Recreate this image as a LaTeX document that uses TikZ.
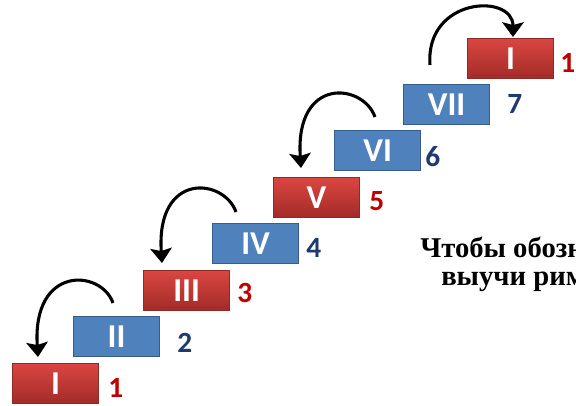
\documentclass[tikz,border=0pt]{standalone}
\usepackage{fontspec}
\setmainfont{Liberation Serif}
\newfontfamily\boxfont{Carlito}
\usetikzlibrary{arrows.meta}
\definecolor{rtop}{HTML}{DA4642}
\definecolor{rbot}{HTML}{A22B27}
\definecolor{rline}{HTML}{8C2B28}
\definecolor{bfill}{HTML}{4F81BD}
\definecolor{bline}{HTML}{385D8A}
\definecolor{numred}{HTML}{C00000}
\definecolor{numblue}{HTML}{1F3A6E}
\begin{document}
\begin{tikzpicture}[x=0.75pt,y=-0.75pt,
  box/.style={rectangle, minimum width=64.5pt, minimum height=30pt, inner sep=0pt,
    anchor=north west, text=white, line width=0.9pt,
    font=\boxfont\bfseries\fontsize{25}{25}\selectfont},
  redbox/.style={box, draw=rline, top color=rtop, bottom color=rbot},
  bluebox/.style={box, draw=bline, fill=bfill},
  num/.style={anchor=base west, inner sep=0pt, font=\boxfont\bfseries\fontsize{22}{22}\selectfont},
  rnum/.style={num, text=numred},
  bnum/.style={num, text=numblue},
  arr/.style={line width=2.3pt, -{Stealth[width=16pt,length=11pt,inset=2pt]}},
  caption/.style={anchor=base west, inner sep=0pt, font=\bfseries\fontsize{21.5}{21.5}\selectfont}]
\useasboundingbox[fill=white] (0,0) rectangle (576,405);

% boxes
\node[redbox]  (b1) at (12,363)  {I};
\node[bluebox] (b2) at (73,316)  {II};
\node[redbox]  (b3) at (143,270) {III};
\node[bluebox] (b4) at (212,223) {IV};
\node[redbox]  (b5) at (273,177) {V};
\node[bluebox] (b6) at (334,130) {VI};
\node[bluebox] (b7) at (403,84)  {VII};
\node[redbox]  (b8) at (467,38)  {I};

% numbers
\node[rnum] (n1) at (108,397) {1};
\node[bnum] (n2) at (177,352) {2};
\node[rnum] (n3) at (237,302) {3};
\node[bnum] (n4) at (306,257) {4};
\node[rnum] (n5) at (369,210) {5};
\node[bnum] (n6) at (425,166) {6};
\node[bnum] (n7) at (507,113) {7};
\node[rnum] (n8) at (560,72)  {1};

% arrows
\coordinate (a1s) at (113,303); \coordinate (a1e) at (38,357);
\coordinate (a2s) at (236,212); \coordinate (a2e) at (162,263);
\coordinate (a3s) at (375,117); \coordinate (a3e) at (301,168);
\coordinate (a4s) at (430,65);  \coordinate (a4e) at (513,37);
\draw[arr] (a1s) .. controls ++(-12,-34) and ++(-6,-92) .. (a1e);
\draw[arr] (a2s) .. controls ++(-12,-34) and ++(-6,-92) .. (a2e);
\draw[arr] (a3s) .. controls ++(-12,-34) and ++(-6,-92) .. (a3e);
\draw[arr] (a4s) .. controls ++(-5,-68) and ++(0,-44) .. (a4e);

% caption (cut at the right edge)
\node[caption] (t1) at (420,257) {Чтобы обозн};
\node[caption] (t2) at (441,285) {выучи рим};
\end{tikzpicture}
\end{document}
